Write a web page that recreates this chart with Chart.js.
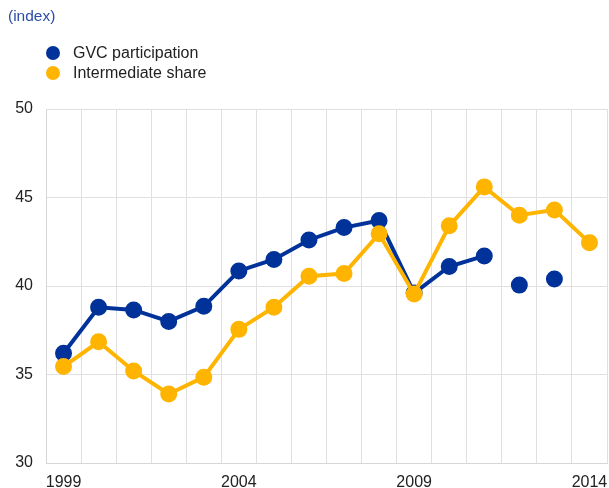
<!DOCTYPE html>
<html>
<head>
<meta charset="utf-8">
<script src="https://cdn.jsdelivr.net/npm/chart.js@4"></script>
<style>
  body { margin: 0; background: #fff; font-family: "Liberation Sans", Arial, sans-serif; }
  #wrap { position: relative; width: 609px; height: 488px; }
  #unit { position: absolute; left: 8px; top: 7px; font-size: 15.5px; color: #2a4ea8; }
  .leg { position: absolute; left: 46px; font-size: 16px; color: #222; line-height: 18px; }
  .leg span { display: inline-block; width: 14px; height: 14px; border-radius: 50%; vertical-align: -2px; margin-right: 13px; }
  canvas { display: block; }
</style>
</head>
<body>
<div id="wrap">
  <div id="unit">(index)</div>
  <div class="leg" style="top:44px"><span style="background:#003299"></span>GVC participation</div>
  <div class="leg" style="top:64px"><span style="background:#ffb400"></span>Intermediate share</div>
  <canvas id="c" width="609" height="488"></canvas>
</div>
<script>
const years = ['1999','2000','2001','2002','2003','2004','2005','2006','2007','2008','2009','2010','2011','2012','2013','2014'];
const shownYears = ['1999','2004','2009','2014'];
// last two GVC values are shown as unconnected dots
const gvcParticipation = [36.2, 38.8, 38.65, 38.0, 38.85, 40.85, 41.5, 42.6, 43.3, 43.7, 39.6, 41.1, 41.7, 40.05, 40.4, null];
const intermediateShare = [35.45, 36.85, 35.2, 33.9, 34.85, 37.55, 38.8, 40.55, 40.7, 42.95, 39.55, 43.4, 45.6, 44.0, 44.3, 42.45];
const gvcLastConnected = 12;

new Chart(document.getElementById('c'), {
  type: 'line',
  data: {
    labels: years,
    datasets: [{
      label: 'GVC participation',
      data: gvcParticipation,
      borderColor: '#003299',
      backgroundColor: '#003299',
      borderWidth: 4,
      pointRadius: 6.5,
      pointHoverRadius: 6.5,
      order: 2,
      segment: {
        borderColor: ctx => ctx.p1DataIndex > gvcLastConnected ? 'rgba(0,0,0,0)' : '#003299'
      }
    }, {
      label: 'Intermediate share',
      data: intermediateShare,
      borderColor: '#ffb400',
      backgroundColor: '#ffb400',
      borderWidth: 4,
      pointRadius: 6.5,
      pointHoverRadius: 6.5,
      order: 1
    }]
  },
  options: {
    responsive: false,
    animation: false,
    layout: { autoPadding: false, padding: { top: 109, right: 2, left: 0, bottom: 0 } },
    plugins: { legend: { display: false }, tooltip: { enabled: false } },
    scales: {
      x: {
        offset: true,
        grid: { offset: true, color: '#e0e0e0', drawTicks: false },
        border: { color: '#d6d6d6' },
        ticks: {
          autoSkip: false,
          maxRotation: 0,
          padding: 10,
          color: '#222',
          font: { size: 16, family: 'Liberation Sans' },
          callback: function(val) {
            const lab = this.getLabelForValue(val);
            return shownYears.includes(lab) ? lab : '';
          }
        },
        afterFit: s => { s.height = 25; s.paddingRight = 0; s.paddingLeft = 0; }
      },
      y: {
        min: 30,
        max: 50,
        grid: { color: '#e0e0e0', drawTicks: false },
        border: { color: '#d6d6d6' },
        ticks: {
          stepSize: 5,
          padding: 13,
          color: '#222',
          font: { size: 16, family: 'Liberation Sans' }
        },
        afterFit: s => { s.width = 46; }
      }
    }
  }
});
</script>
</body>
</html>
